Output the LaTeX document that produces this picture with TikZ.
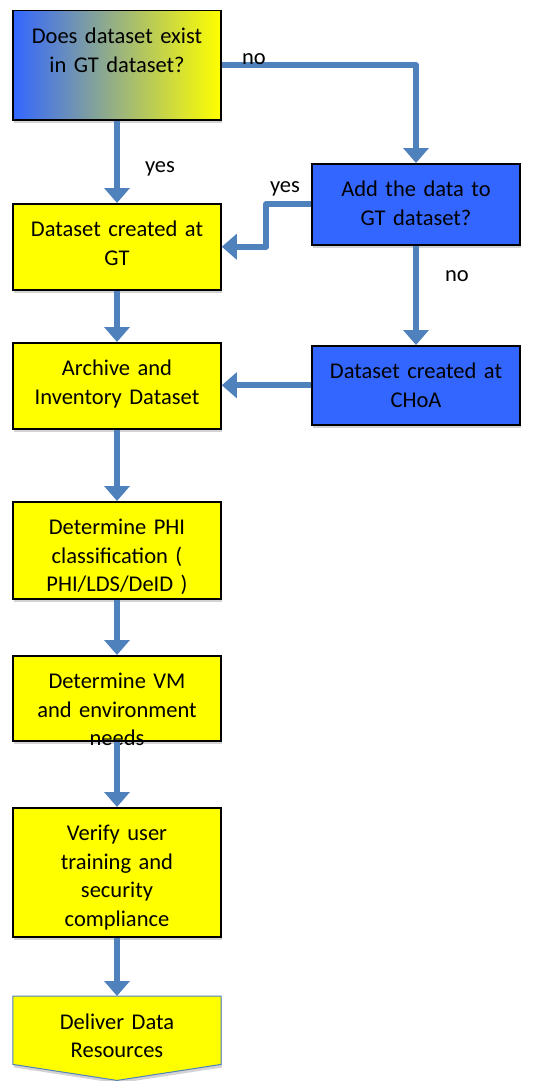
\documentclass[tikz,border=0pt]{standalone}
\usepackage{fontspec}
\setmainfont{Carlito}
\usepackage{tikz}
\usetikzlibrary{arrows.meta}
\usetikzlibrary{shadows}
\usetikzlibrary{backgrounds}
\definecolor{boxblue}{RGB}{51,102,255}
\definecolor{boxyellow}{RGB}{255,255,0}
\definecolor{arrowblue}{RGB}{79,129,189}

\begin{document}
\begin{tikzpicture}[x=1pt,y=-1pt,
  flowtext/.style={anchor=north, inner sep=0pt, minimum width=208pt, text width=200pt, align=center, text height=33pt, font=\fontsize{22.5}{28.5}\selectfont},
  flowbox/.style={flowtext, draw=black, line width=1.5pt, drop shadow={shadow xshift=1pt, shadow yshift=-3pt, opacity=0.35}},
  lbl/.style={anchor=base, inner sep=0pt, font=\fontsize{22.5}{28.5}\selectfont},
  flow/.style={line width=6pt, arrowblue, line join=round, ->, >={Triangle[width=25pt,length=15pt]}}]
\useasboundingbox (0,0) rectangle (549,1081);

\node[flowbox, left color=boxblue, right color=boxyellow, text depth=76pt] (exists) at (117,10) {Does dataset exist\\in GT dataset?};
\node[flowbox, fill=boxyellow, text depth=53pt] (gt) at (117,203) {Dataset created at\\GT};
\node[flowbox, fill=boxblue, text depth=48pt] (add) at (416,163) {Add the data to\\GT dataset?};
\node[flowbox, fill=boxblue, text depth=46pt] (choa) at (416,345) {Dataset created at\\CHoA};
\node[flowbox, fill=boxyellow, text depth=53pt] (archive) at (117,342) {Archive and\\Inventory Dataset};
\node[flowbox, fill=boxyellow, text depth=64pt] (phi) at (117,501) {Determine PHI\\classification (\\PHI/LDS/DeID )};
\node[flowbox, fill=boxyellow, text depth=52pt] (vm) at (117,655) {Determine VM\\and environment\\needs};
\node[flowbox, fill=boxyellow, text depth=96pt] (verify) at (117,807) {Verify user\\training and\\security\\compliance};
\node[flowtext, text depth=35pt] (deliver) at (117,996) {Deliver Data\\Resources};
\begin{scope}[on background layer]
\draw[arrowblue, line width=1pt, fill=boxyellow, drop shadow={shadow xshift=1pt, shadow yshift=-3pt, opacity=0.35}] (deliver.north west) -- (deliver.north east) -- (deliver.south east) -- ([yshift=-16pt]deliver.south) -- (deliver.south west) -- cycle;
\end{scope}

\draw[flow] (exists.east) -| (add.north);
\draw[flow] (exists.south) -- (gt.north);
\draw[flow] (add.west) -- ++(-45,0) |- (gt.east);
\draw[flow] (add.south) -- (choa.north);
\draw[flow] (choa.west) -- (archive.east |- choa.west);
\draw[flow] (gt.south) -- (archive.north);
\draw[flow] (archive.south) -- (phi.north);
\draw[flow] (phi.south) -- (vm.north);
\draw[flow] (vm.south) -- (verify.north);
\draw[flow] (verify.south) -- (deliver.north);

\node[lbl] (noexists) at (254,64) {no};
\node[lbl] (yesexists) at (160,172) {yes};
\node[lbl] (yesadd) at (285,192) {yes};
\node[lbl] (noadd) at (457,281) {no};

\end{tikzpicture}
\end{document}
